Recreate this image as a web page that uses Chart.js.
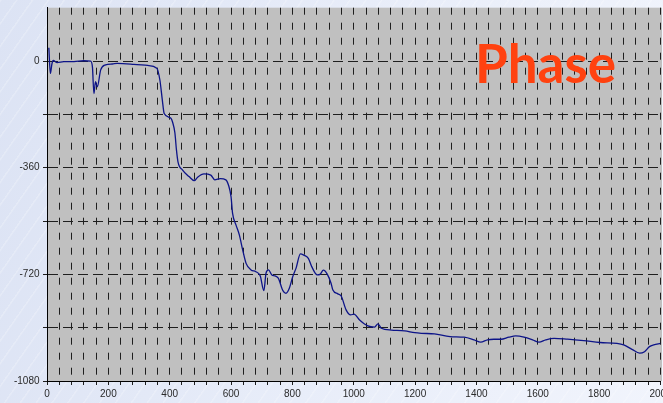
<!DOCTYPE html>
<html>
<head>
<meta charset="utf-8">
<script src="https://cdn.jsdelivr.net/npm/chart.js@4.4.1/dist/chart.umd.min.js"></script>
<style>
  html, body { margin: 0; padding: 0; }
  body {
    width: 663px; height: 403px; overflow: hidden;
    background:
      repeating-linear-gradient(125deg, rgba(255,255,255,0.22) 0px, rgba(255,255,255,0.22) 1px, rgba(255,255,255,0) 2px, rgba(255,255,255,0) 13px),
      linear-gradient(100deg, #dce3f4 0%, #e8edf9 50%, #f1f4fc 100%);
  }
  #wrap { position: absolute; left: 0; top: 0; width: 663px; height: 403px; }
</style>
</head>
<body>
<div id="wrap"><canvas id="c" width="663" height="403"></canvas></div>
<script>
// Frequency axis (x) and phase in degrees (y)
const freqValues = [6, 11, 16, 20, 33, 55, 88, 120, 142, 148, 153, 158, 164, 175, 191, 213, 229, 283, 328, 358,
  368, 376, 382, 404, 409, 417, 422, 427, 442, 463, 480, 491, 512, 534, 547, 565, 583, 592, 600, 605,
  616, 627, 638, 649, 665, 681, 695, 707, 714, 722, 733, 743, 754, 769, 779, 790, 801, 812, 826, 837,
  852, 863, 881, 890, 901, 914, 926, 932, 948, 959, 975, 990, 1001, 1019, 1046, 1068, 1079, 1090, 1123, 1166,
  1199, 1221, 1263, 1314, 1360, 1392, 1414, 1436, 1457, 1480, 1506, 1528, 1555, 1583, 1604, 1626, 1653, 1697, 1750, 1803,
  1858, 1880, 1907, 1932, 1948, 1964, 1978, 2000];
const phaseValues = [45, -42, -10, 2, -5, -2, -2, 1, 0, -19, -110, -70, -87, -30, -13, -10, -8, -11, -15, -24,
  -64, -132, -177, -193, -205, -243, -300, -340, -368, -390, -404, -392, -381, -385, -401, -397, -401, -420, -458, -514,
  -553, -587, -638, -683, -705, -711, -725, -775, -716, -705, -722, -725, -733, -775, -784, -767, -728, -699, -651, -655,
  -666, -694, -722, -720, -706, -720, -750, -773, -786, -793, -840, -857, -854, -874, -894, -898, -887, -902, -908, -911,
  -917, -919, -921, -930, -932, -941, -949, -941, -939, -939, -932, -928, -932, -941, -949, -941, -936, -939, -944, -950,
  -953, -958, -973, -986, -981, -964, -958, -953];
const xTickLabels = [0, 200, 400, 600, 800, 1000, 1200, 1400, 1600, 1800, 2000];
const yTickLabels = [0, -360, -720, -1080];
const titleText = 'Phase';

const points = freqValues.map((f, i) => ({ x: f, y: phaseValues[i] }));

Chart.defaults.font.family = '"Liberation Sans Narrow", "Liberation Sans", Arial, sans-serif';
Chart.defaults.font.size = 10;
Chart.defaults.color = '#2a2a2a';

const plotBg = {
  id: 'plotBg',
  beforeDraw(chart) {
    const { ctx, chartArea: a } = chart;
    ctx.save();
    ctx.fillStyle = '#c0c0c0';
    ctx.fillRect(a.left, a.top, 662 - a.left, a.bottom - a.top);
    ctx.restore();
  }
};

const titlePlugin = {
  id: 'phaseTitle',
  afterDatasetsDraw(chart) {
    const { ctx } = chart;
    ctx.save();
    ctx.font = 'bold 53px "Comic Sans MS", Lato, "DejaVu Sans", sans-serif';
    ctx.fillStyle = '#ff4210';
    ctx.textAlign = 'left';
    ctx.textBaseline = 'alphabetic';
    ctx.fillText(titleText, 475, 83);
    ctx.restore();
  }
};

new Chart(document.getElementById('c'), {
  type: 'line',
  data: {
    datasets: [{
      data: points,
      borderColor: '#0d1488',
      borderWidth: 1.3,
      pointRadius: 0,
      fill: false,
      cubicInterpolationMode: 'monotone'
    }]
  },
  options: {
    responsive: false,
    animation: false,
    devicePixelRatio: 1,
    layout: { padding: { top: 7.7, right: 2.5, bottom: 0, left: 0 } },
    plugins: { legend: { display: false }, tooltip: { enabled: false } },
    scales: {
      x: {
        type: 'linear',
        min: 0, max: 2000,
        afterFit(s) { s.height = 22; s.paddingLeft = 0; s.paddingRight = 0; },
        ticks: {
          stepSize: 40,
          autoSkip: false,
          maxRotation: 0,
          padding: 3,
          color: '#2a2a2a',
          callback: v => xTickLabels.includes(v) ? String(v) : ''
        },
        grid: {
          color: '#1e1e1e',
          lineWidth: 1,
          tickLength: 4,
          tickBorderDash: [],
          tickColor: '#1e1e1e'
        },
        border: { display: true, color: '#000', width: 1, dash: [7, 8] }
      },
      y: {
        min: -1080, max: 180,
        afterFit(s) { s.width = 47; s.paddingTop = 0; s.paddingBottom = 0; },
        ticks: {
          stepSize: 180,
          autoSkip: false,
          padding: 3.5,
          color: '#2a2a2a',
          callback: v => yTickLabels.includes(v) ? String(v) : ''
        },
        grid: {
          color: c => (c.tick && c.tick.value === 180) ? 'rgba(0,0,0,0)' : '#1e1e1e',
          lineWidth: 1,
          tickLength: 4,
          tickBorderDash: []
        },
        border: { display: true, color: '#000', width: 1, dash: [10, 5] }
      }
    }
  },
  plugins: [plotBg, titlePlugin]
});
</script>
</body>
</html>
